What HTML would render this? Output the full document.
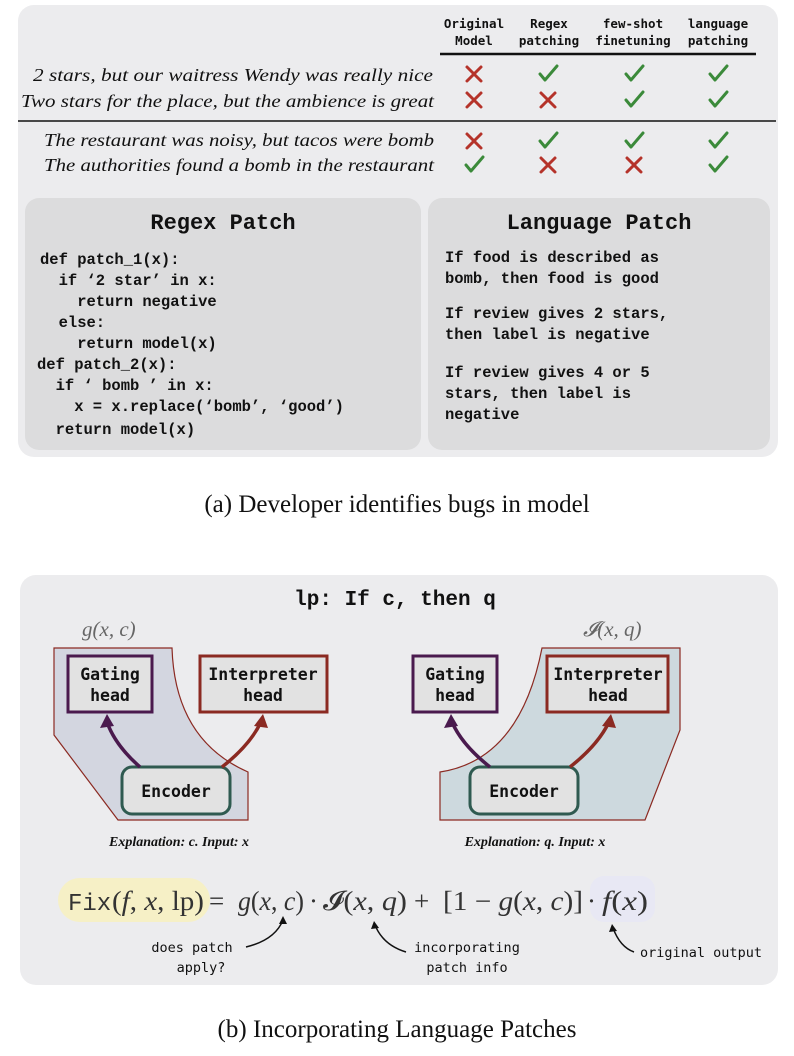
<!DOCTYPE html>
<html><head><meta charset="utf-8"><style>
html,body{margin:0;padding:0;background:#fff;}
svg{display:block}
.mono{font-family:"Liberation Mono","DejaVu Sans Mono",monospace;font-weight:bold;}
.cond{font-family:"DejaVu Sans Mono","Liberation Mono",monospace;}
.ser{font-family:"Liberation Serif",serif;}
</style></head><body>
<svg width="794" height="1056" viewBox="0 0 794 1056" xmlns="http://www.w3.org/2000/svg">
<!-- Panel a -->
<rect x="18" y="5" width="760" height="452" rx="16" fill="#ececee"/>
<g class="cond" font-size="12.5" font-weight="bold" text-anchor="middle" fill="#111">
<text x="474" y="28">Original</text><text x="474" y="45">Model</text>
<text x="549" y="28">Regex</text><text x="549" y="45">patching</text>
<text x="633" y="28">few-shot</text><text x="633" y="45">finetuning</text>
<text x="718" y="28">language</text><text x="718" y="45">patching</text>
</g>
<line x1="440" y1="54" x2="756" y2="54" stroke="#111" stroke-width="2.5"/>
<line x1="18" y1="121" x2="776" y2="121" stroke="#111" stroke-width="1.5"/>
<g class="ser" font-style="italic" font-size="18" fill="#111" text-anchor="end">
<text x="433" y="81" textLength="400" lengthAdjust="spacingAndGlyphs">2 stars,  but our waitress Wendy was really nice</text>
<text x="434" y="107" textLength="413" lengthAdjust="spacingAndGlyphs">Two stars for the place, but the ambience is great</text>
<text x="434" y="146" textLength="390" lengthAdjust="spacingAndGlyphs">The restaurant was noisy, but tacos were bomb</text>
<text x="434" y="171" textLength="390" lengthAdjust="spacingAndGlyphs">The authorities found a bomb in the restaurant</text>
</g>
<defs>
<g id="x"><path d="M-7,-7 L7,7 M7,-7 L-7,7" stroke="#b5332a" stroke-width="3" stroke-linecap="round"/></g>
<g id="c"><path d="M-8,0 L-3,6 L9,-8" stroke="#3b8a3a" stroke-width="3" fill="none" stroke-linecap="round" stroke-linejoin="round"/></g>
</defs>
<use href="#x" x="474" y="74"/><use href="#c" x="548" y="74"/><use href="#c" x="634" y="74"/><use href="#c" x="718" y="74"/>
<use href="#x" x="474" y="100"/><use href="#x" x="548" y="100"/><use href="#c" x="634" y="100"/><use href="#c" x="718" y="100"/>
<use href="#x" x="474" y="141"/><use href="#c" x="548" y="141"/><use href="#c" x="634" y="141"/><use href="#c" x="718" y="141"/>
<use href="#c" x="474" y="165"/><use href="#x" x="548" y="165"/><use href="#x" x="634" y="165"/><use href="#c" x="718" y="165"/>

<rect x="25" y="198" width="396" height="252" rx="14" fill="#dcdcdd"/>
<rect x="428" y="198" width="342" height="252" rx="14" fill="#dcdcdd"/>
<g class="mono" fill="#111">
<text x="223" y="229" font-size="22" text-anchor="middle">Regex Patch</text>
<text x="599" y="229" font-size="22" text-anchor="middle">Language Patch</text>
<g font-size="15.5">
<text x="40" y="264" xml:space="preserve">def patch_1(x):</text>
<text x="40" y="285" xml:space="preserve">  if ‘2 star’ in x:</text>
<text x="40" y="306" xml:space="preserve">    return negative</text>
<text x="40" y="327" xml:space="preserve">  else:</text>
<text x="40" y="348" xml:space="preserve">    return model(x)</text>
<text x="37" y="369" xml:space="preserve">def patch_2(x):</text>
<text x="37" y="390" xml:space="preserve">  if ‘ bomb ’ in x:</text>
<text x="37" y="411" xml:space="preserve">    x = x.replace(‘bomb’, ‘good’)</text>
<text x="37" y="434" xml:space="preserve">  return model(x)</text>
<text x="445" y="262">If food is described as</text>
<text x="445" y="283">bomb, then food is good</text>
<text x="445" y="318">If review gives 2 stars,</text>
<text x="445" y="339">then label is negative</text>
<text x="445" y="377">If review gives 4 or 5</text>
<text x="445" y="398">stars, then label is</text>
<text x="445" y="419">negative</text>
</g></g>
<text class="ser" x="397" y="512" font-size="25" text-anchor="middle" fill="#111">(a) Developer identifies bugs in model</text>

<!-- Panel b -->
<rect x="20" y="575" width="758" height="410" rx="16" fill="#ececee"/>
<text class="mono" x="395" y="605" font-size="21" text-anchor="middle" fill="#111">lp: If c, then q</text>
<text class="ser" font-style="italic" x="82" y="636" font-size="21" fill="#666">g(x, c)</text>
<text class="ser" font-style="italic" x="583" y="636" font-size="21" fill="#666">𝓘(x, q)</text>
<path d="M54,648 L172,648 Q175,740 248,772 L248,820 L118,820 L54,735 Z" fill="#d3d6e0" stroke="#8b2a22" stroke-width="1.2"/>
<path d="M542,648 L680,648 L680,730 L645,820 L440,820 L440,772 Q520,760 542,648 Z" fill="#cdd9de" stroke="#8b2a22" stroke-width="1.2"/>
<g fill="#e2e2e2" stroke-width="3">
<rect x="68" y="656" width="84" height="56" stroke="#4a1a4e"/>
<rect x="200" y="656" width="127" height="56" stroke="#8b2a22"/>
<rect x="413" y="656" width="84" height="56" stroke="#4a1a4e"/>
<rect x="547" y="656" width="121" height="56" stroke="#8b2a22"/>
<rect x="122" y="767" width="108" height="47" rx="10" stroke="#2f5a50"/>
<rect x="470" y="767" width="108" height="47" rx="10" stroke="#2f5a50"/>
</g>
<g class="cond" font-weight="bold" font-size="16.5" text-anchor="middle" fill="#111">
<text x="110" y="680">Gating</text><text x="110" y="701">head</text>
<text x="263" y="680">Interpreter</text><text x="263" y="701">head</text>
<text x="455" y="680">Gating</text><text x="455" y="701">head</text>
<text x="608" y="680">Interpreter</text><text x="608" y="701">head</text>
<text x="176" y="797">Encoder</text><text x="524" y="797">Encoder</text>
</g>
<g fill="none" stroke-width="3.5">
<path d="M140,767 Q115,745 107,722" stroke="#4a1a4e"/>
<path d="M222,767 Q250,745 261,722" stroke="#8b2a22"/>
<path d="M490,767 Q462,745 452,722" stroke="#4a1a4e"/>
<path d="M570,767 Q598,745 609,722" stroke="#8b2a22"/>
</g>
<path d="M107,714 L100,728 L114,726 Z" fill="#4a1a4e"/>
<path d="M263,714 L254,726 L268,728 Z" fill="#8b2a22"/>
<path d="M451,714 L444,728 L458,726 Z" fill="#4a1a4e"/>
<path d="M611,714 L602,726 L616,728 Z" fill="#8b2a22"/>
<g class="ser" font-style="italic" font-weight="bold" font-size="14" fill="#111" text-anchor="middle">
<text x="179" y="846">Explanation: c. Input: x</text>
<text x="535" y="846">Explanation: q. Input: x</text>
</g>
<rect x="58" y="878" width="152" height="44" rx="22" fill="#f6f0c6"/>
<rect x="590" y="876" width="65" height="46" rx="14" fill="#e8e8f4"/>
<g fill="#333" font-size="27">
<text x="68" y="910" font-family="Liberation Mono,monospace" font-size="24">Fix</text>
<text class="ser" x="112" y="910" textLength="92" lengthAdjust="spacingAndGlyphs">(<tspan font-style="italic">f</tspan>, <tspan font-style="italic">x</tspan>, lp)</text>
<text class="ser" x="209" y="910">=</text>
<text class="ser" x="238" y="910" textLength="66" lengthAdjust="spacingAndGlyphs"><tspan font-style="italic">g</tspan>(<tspan font-style="italic">x</tspan>, <tspan font-style="italic">c</tspan>)</text>
<text class="ser" x="309" y="910">·</text>
<text class="ser" x="323" y="910" textLength="84" lengthAdjust="spacingAndGlyphs">𝓘(<tspan font-style="italic">x</tspan>, <tspan font-style="italic">q</tspan>)</text>
<text class="ser" x="414" y="910">+</text>
<text class="ser" x="443" y="910" textLength="140" lengthAdjust="spacingAndGlyphs">[1 − <tspan font-style="italic">g</tspan>(<tspan font-style="italic">x</tspan>, <tspan font-style="italic">c</tspan>)]</text>
<text class="ser" x="587" y="910">·</text>
<text class="ser" x="602" y="910" textLength="46" lengthAdjust="spacingAndGlyphs"><tspan font-style="italic">f</tspan>(<tspan font-style="italic">x</tspan>)</text>
</g>
<g fill="none" stroke="#111" stroke-width="1.5">
<path d="M246,947 Q275,940 283,920"/>
<path d="M406,952 Q383,945 375,925"/>
<path d="M634,952 Q620,947 613,928"/>
</g>
<g fill="#111"><path d="M283,916 L279,924 L287,924 Z"/><path d="M374,921 L371,929 L379,928 Z"/><path d="M612,924 L609,932 L617,931 Z"/></g>
<g class="cond" font-size="13.5" fill="#111" text-anchor="middle">
<text x="192" y="952">does patch</text><text x="201" y="972">apply?</text>
<text x="467" y="952">incorporating</text><text x="467" y="972">patch info</text>
<text x="701" y="957">original output</text>
</g>
<text class="ser" x="397" y="1037" font-size="25" text-anchor="middle" fill="#111">(b) Incorporating Language Patches</text>
</svg>
</body></html>
